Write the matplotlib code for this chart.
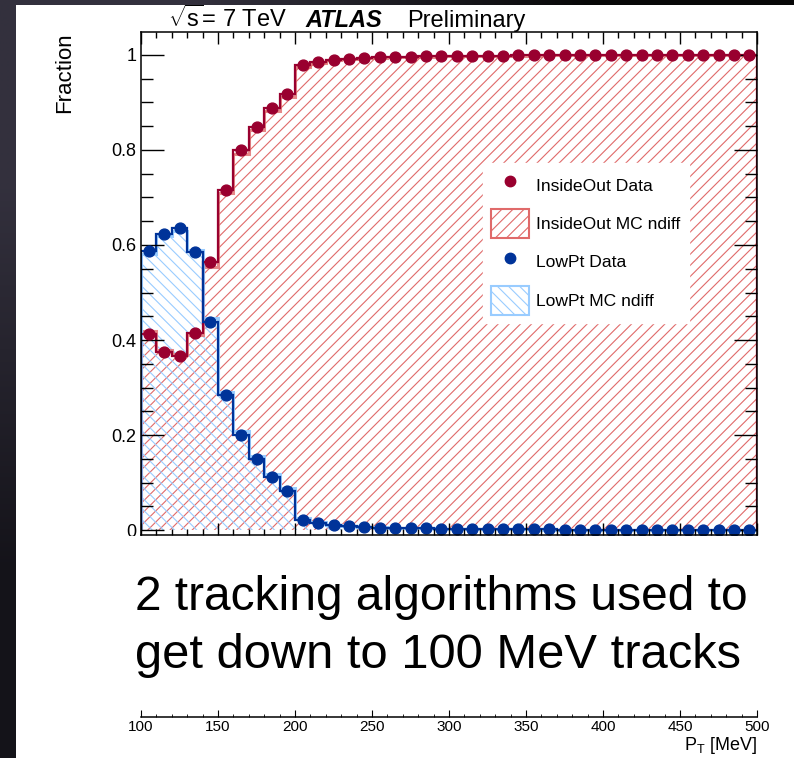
import numpy as np
import matplotlib
matplotlib.use('Agg')
import matplotlib.pyplot as plt
from matplotlib.patches import Patch, Rectangle
from matplotlib.lines import Line2D
from matplotlib.ticker import MultipleLocator

plt.rcParams['font.family'] = ['Liberation Sans', 'DejaVu Sans']
plt.rcParams['mathtext.fontset'] = 'custom'
plt.rcParams['mathtext.rm'] = 'Liberation Sans'
plt.rcParams['mathtext.it'] = 'Liberation Sans:italic'
plt.rcParams['hatch.linewidth'] = 0.8

## pT bins (10 MeV wide, 100 -> 500 MeV)
pt_edges = np.arange(100, 510, 10)

## fractions
inside_out_data = [0.412, 0.375, 0.366, 0.415, 0.564, 0.716, 0.799, 0.849, 0.888, 0.917,
                   0.978, 0.986, 0.990, 0.992, 0.994, 0.995, 0.996, 0.996, 0.997, 0.997,
                   0.998, 0.998, 0.998, 0.998, 0.999, 0.999, 0.999, 0.999, 0.999, 0.999,
                   0.999, 0.999, 1.000, 1.000, 1.000, 1.000, 1.000, 1.000, 1.000, 1.000]
low_pt_data = [0.587, 0.623, 0.635, 0.585, 0.437, 0.284, 0.201, 0.149, 0.112, 0.082,
               0.021, 0.014, 0.010, 0.008, 0.006, 0.005, 0.005, 0.004, 0.004, 0.003,
               0.003, 0.003, 0.002, 0.002, 0.002, 0.002, 0.002, 0.001, 0.001, 0.001,
               0.001, 0.001, 0.001, 0.001, 0.001, 0.001, 0.001, 0.001, 0.001, 0.001]
inside_out_mc = [0.418, 0.380, 0.370, 0.410, 0.553, 0.709, 0.792, 0.842, 0.882, 0.912,
                 0.975, 0.984, 0.989, 0.991, 0.993, 0.994, 0.995, 0.996, 0.996, 0.997,
                 0.997, 0.997, 0.998, 0.998, 0.998, 0.998, 0.999, 0.999, 0.999, 0.999,
                 0.999, 0.999, 0.999, 0.999, 0.999, 0.999, 0.999, 0.999, 0.999, 0.999]
low_pt_mc = [0.580, 0.618, 0.630, 0.590, 0.447, 0.291, 0.208, 0.156, 0.118, 0.088,
             0.025, 0.016, 0.011, 0.009, 0.007, 0.006, 0.005, 0.004, 0.004, 0.003,
             0.003, 0.003, 0.002, 0.002, 0.002, 0.002, 0.001, 0.001, 0.001, 0.001,
             0.001, 0.001, 0.001, 0.001, 0.001, 0.001, 0.001, 0.001, 0.001, 0.001]

y_ticks = [0, 0.2, 0.4, 0.6, 0.8, 1.0]
y_tick_labels = ['0', '0.2', '0.4', '0.6', '0.8', '1']

dark_red = '#99002f'
light_red = '#e06a6a'
dark_blue = '#003399'
light_blue = '#99ccff'

W, H = 794, 758
def fx(px):
    return px / W
def fy(py):
    return 1 - py / H

fig = plt.figure(figsize=(W / 100, H / 100), dpi=100)

## slide background: dark gradient + white panel
bg = fig.add_axes([0, 0, 1, 1], zorder=-10)
corners = np.array([[[0.20, 0.19, 0.24], [0.03, 0.03, 0.03]],
                    [[0.08, 0.075, 0.10], [0.03, 0.03, 0.04]]])
bg.imshow(corners, extent=[0, 1, 0, 1], aspect='auto', interpolation='bilinear')
bg.set_xlim(0, 1)
bg.set_ylim(0, 1)
bg.axis('off')
bg.add_patch(Rectangle((fx(16), 0), 1 - fx(16), fy(5), facecolor='white',
                       edgecolor='none', transform=bg.transAxes))

## main plot
ax = fig.add_axes([fx(141), fy(535), (757 - 141) / W, (535 - 32) / H])
centers = (pt_edges[:-1] + pt_edges[1:]) / 2

ax.stairs(inside_out_mc, pt_edges, fill=True, hatch='///', facecolor='none',
          edgecolor=light_red, linewidth=0)
ax.stairs(low_pt_mc, pt_edges, fill=True, hatch='\\\\\\', facecolor='none',
          edgecolor=light_blue, linewidth=0)
ax.stairs(inside_out_mc, pt_edges, color=light_red, linewidth=2.2, alpha=0.8)
ax.stairs(low_pt_mc, pt_edges, color=light_blue, linewidth=2.2)
ax.stairs(inside_out_data, pt_edges, color=dark_red, linewidth=1.6)
ax.stairs(low_pt_data, pt_edges, color=dark_blue, linewidth=1.6)
ax.plot(centers, inside_out_data, 'o', color=dark_red, markersize=7.8, clip_on=False)
ax.plot(centers, low_pt_data, 'o', color=dark_blue, markersize=7.8)

ax.set_xlim(100, 500)
ax.set_ylim(-0.0105, 1.0484)
ax.xaxis.set_major_locator(MultipleLocator(50))
ax.xaxis.set_minor_locator(MultipleLocator(10))
ax.set_yticks(y_ticks)
ax.set_yticklabels(y_tick_labels)
ax.yaxis.set_minor_locator(MultipleLocator(0.05))
ax.tick_params(which='both', direction='in', top=True, right=True,
               labelbottom=False, width=1.0)
ax.tick_params(axis='x', which='major', length=8.5)
ax.tick_params(axis='x', which='minor', length=4)
ax.tick_params(axis='y', which='major', length=16.5, labelsize=13, pad=3.5)
ax.tick_params(axis='y', which='minor', length=8.5)
for s in ax.spines.values():
    s.set_linewidth(1.1)

handles = [Line2D([], [], ls='none', marker='o', color=dark_red, markersize=7.5),
           Patch(facecolor='white', edgecolor=light_red, hatch='///', linewidth=1.5),
           Line2D([], [], ls='none', marker='o', color=dark_blue, markersize=7.5),
           Patch(facecolor='white', edgecolor=light_blue, hatch='\\\\\\', linewidth=1.5)]
labels = ['InsideOut Data', 'InsideOut MC ndiff', 'LowPt Data', 'LowPt MC ndiff']
ax.legend(handles, labels, loc='upper left', bbox_to_anchor=(fx(483), fy(163)),
          bbox_transform=fig.transFigure, borderaxespad=0, fancybox=False,
          framealpha=1, edgecolor='white', facecolor='white', fontsize=12.6,
          handlelength=2.2, handleheight=2.15, handletextpad=0.4,
          labelspacing=0.55, borderpad=0.45)

## white box of the slide text hides the lower x labels
fig.patches.append(Rectangle((fx(16), fy(700)), 1 - fx(16), fy(535.9) - fy(700),
                             facecolor='white', edgecolor='none',
                             transform=fig.transFigure, zorder=1))

fig.text(fx(65), fy(32), 'Fraction', rotation=90, ha='center', va='top', fontsize=16)
fig.text(fx(168), fy(27), r'$\sqrt{\mathrm{s}}$= 7 TeV', fontsize=17, va='baseline')
fig.text(fx(305), fy(27), 'ATLAS', fontsize=17, fontweight='bold', fontstyle='italic',
         va='baseline')
fig.text(fx(407), fy(27), 'Preliminary', fontsize=17, va='baseline')

fig.text(fx(135), fy(610), '2 tracking algorithms used to', fontsize=34.5, va='baseline', zorder=3)
fig.text(fx(135), fy(668), 'get down to 100 MeV tracks', fontsize=35.2, va='baseline', zorder=3)

## detached pT axis at the bottom
ax2 = fig.add_axes([fx(141), fy(717), (757 - 141) / W, 0.01])
ax2.set_xlim(100, 500)
ax2.xaxis.set_major_locator(MultipleLocator(50))
ax2.xaxis.set_minor_locator(MultipleLocator(10))
ax2.set_yticks([])
for side in ['left', 'right', 'top']:
    ax2.spines[side].set_visible(False)
ax2.spines['bottom'].set_linewidth(1.1)
ax2.patch.set_alpha(0)
ax2.tick_params(which='both', direction='in', labelsize=11, pad=2)
ax2.tick_params(which='major', length=5)
ax2.tick_params(which='minor', length=2.5)
fig.text(fx(757), fy(750), r'P$_\mathrm{T}$ [MeV]', ha='right', va='baseline', fontsize=13)

fig.savefig('out.png', dpi=100)
